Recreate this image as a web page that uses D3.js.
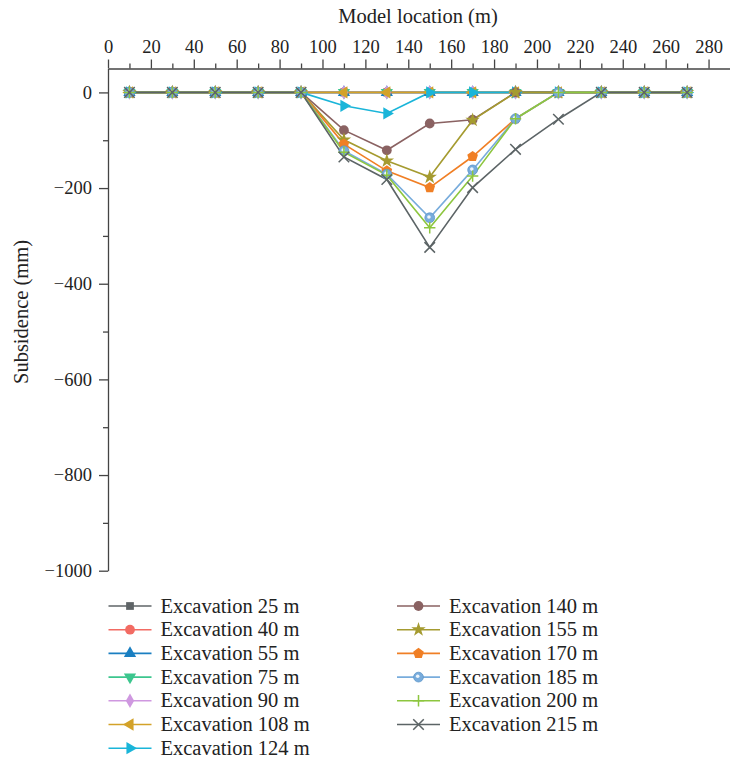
<!DOCTYPE html>
<html>
<head>
<meta charset="utf-8">
<script src="https://cdn.jsdelivr.net/npm/d3@7"></script>
<style>
  body { margin: 0; background: #fff; }
  text { font-family: "Liberation Serif", "DejaVu Serif", serif; fill: #222; }
</style>
</head>
<body>
<div id="chart"></div>
<script>
// model locations (m)
const locations = [10, 30, 50, 70, 90, 110, 130, 150, 170, 190, 210, 230, 250, 270];

const seriesNames = [
  "Excavation 25 m", "Excavation 40 m", "Excavation 55 m", "Excavation 75 m",
  "Excavation 90 m", "Excavation 108 m", "Excavation 124 m", "Excavation 140 m",
  "Excavation 155 m", "Excavation 170 m", "Excavation 185 m", "Excavation 200 m",
  "Excavation 215 m"
];

// subsidence (mm) per excavation stage
const exc25  = [0, 0, 0, 0, 0, 0, 0, 0, 0, 0, 0, 0, 0, 0];
const exc40  = [0, 0, 0, 0, 0, 0, 0, 0, 0, 0, 0, 0, 0, 0];
const exc55  = [0, 0, 0, 0, 0, 0, 0, 0, 0, 0, 0, 0, 0, 0];
const exc75  = [0, 0, 0, 0, 0, 0, 0, 0, 0, 0, 0, 0, 0, 0];
const exc90  = [0, 0, 0, 0, 0, 0, 0, 0, 0, 0, 0, 0, 0, 0];
const exc108 = [0, 0, 0, 0, 0, 0, 0, 0, 0, 0, 0, 0, 0, 0];
const exc124 = [0, 0, 0, 0, 0, -28, -44, 0, 0, 0, 0, 0, 0, 0];
const exc140 = [0, 0, 0, 0, 0, -79, -121, -65, -57, 0, 0, 0, 0, 0];
const exc155 = [0, 0, 0, 0, 0, -99, -143, -177, -58, 0, 0, 0, 0, 0];
const exc170 = [0, 0, 0, 0, 0, -108, -164, -199, -134, -55, 0, 0, 0, 0];
const exc185 = [0, 0, 0, 0, 0, -122, -171, -262, -162, -55, 0, 0, 0, 0];
const exc200 = [0, 0, 0, 0, 0, -125, -173, -283, -175, -55, 0, 0, 0, 0];
const exc215 = [0, 0, 0, 0, 0, -135, -182, -324, -199, -119, -56, 0, 0, 0];

const xTicks = [0, 20, 40, 60, 80, 100, 120, 140, 160, 180, 200, 220, 240, 260, 280];
const xMinorTicks = [10, 30, 50, 70, 90, 110, 130, 150, 170, 190, 210, 230, 250, 270];
const yTicks = [0, -200, -400, -600, -800, -1000];
const yMinorTicks = [-100, -300, -500, -700, -900];

const colors = ["#5f6467", "#f26b63", "#1a7fc1", "#3cc68e", "#cf98e0", "#d3a229",
  "#1ab5d9", "#8a6262", "#a59b30", "#f07f25", "#78acdc", "#8dc63f", "#5c6466"];

const values = [exc25, exc40, exc55, exc75, exc90, exc108, exc124, exc140,
  exc155, exc170, exc185, exc200, exc215];

const width = 730, height = 761;

const x = d3.scaleLinear().domain([0, 290]).range([108, 730]);
const y = d3.scaleLinear().domain([-1000, 50]).range([570.7, 68.5]);

const svg = d3.select("#chart").append("svg")
  .attr("width", width)
  .attr("height", height);

svg.append("rect").attr("width", width).attr("height", height).attr("fill", "#fff");

// custom marker shapes
const symbolPentagon = {
  draw(ctx, size) {
    const r = Math.sqrt(size / 2.378);
    for (let i = 0; i < 5; i++) {
      const a = -Math.PI / 2 + i * 2 * Math.PI / 5;
      if (i === 0) ctx.moveTo(r * Math.cos(a), r * Math.sin(a));
      else ctx.lineTo(r * Math.cos(a), r * Math.sin(a));
    }
    ctx.closePath();
  }
};
const symbolPlusLine = {
  draw(ctx, size) {
    const r = Math.sqrt(size) / 2;
    ctx.moveTo(-r, 0); ctx.lineTo(r, 0);
    ctx.moveTo(0, -r); ctx.lineTo(0, r);
  }
};
const symbolTimesLine = {
  draw(ctx, size) {
    const r = Math.sqrt(size) / 2.4;
    ctx.moveTo(-r, -r); ctx.lineTo(r, r);
    ctx.moveTo(-r, r); ctx.lineTo(r, -r);
  }
};

const markers = [
  { type: d3.symbolSquare, size: 60, rot: 0 },
  { type: d3.symbolCircle, size: 75, rot: 0 },
  { type: d3.symbolTriangle, size: 65, rot: 0 },
  { type: d3.symbolTriangle, size: 65, rot: 180 },
  { type: d3.symbolDiamond, size: 60, rot: 0 },
  { type: d3.symbolTriangle, size: 65, rot: -90 },
  { type: d3.symbolTriangle, size: 65, rot: 90 },
  { type: d3.symbolCircle, size: 75, rot: 0 },
  { type: d3.symbolStar, size: 65, rot: 0 },
  { type: symbolPentagon, size: 75, rot: 0 },
  { type: d3.symbolCircle, size: 75, rot: 0, sphere: true },
  { type: symbolPlusLine, size: 130, rot: 0, stroke: true },
  { type: symbolTimesLine, size: 160, rot: 0, stroke: true }
];

function drawMarker(g, i, cx, cy) {
  const m = markers[i];
  const p = g.append("path")
    .attr("d", d3.symbol().type(m.type).size(m.size)())
    .attr("transform", `translate(${cx},${cy}) rotate(${m.rot})`);
  if (m.stroke) {
    p.attr("fill", "none").attr("stroke", colors[i]).attr("stroke-width", 1.5);
  } else {
    p.attr("fill", colors[i]);
  }
  if (m.sphere) {
    p.attr("stroke", "#5d95c9").attr("stroke-width", 0.8);
    g.append("circle")
      .attr("cx", cx - 0.8).attr("cy", cy - 0.8).attr("r", 1.8)
      .attr("fill", "#eef5fc");
  }
}

// axes
const axisColor = "#444";

svg.append("g")
  .attr("transform", `translate(0,${y(50)})`)
  .call(d3.axisTop(x).tickValues(xTicks).tickSize(9).tickSizeOuter(0).tickPadding(7)
    .tickFormat(d3.format("d")));
svg.append("g")
  .attr("transform", `translate(0,${y(50)})`)
  .call(d3.axisTop(x).tickValues(xMinorTicks).tickSize(5).tickSizeOuter(0).tickFormat(""))
  .select(".domain").remove();

svg.append("g")
  .attr("transform", `translate(${x(0)},0)`)
  .call(d3.axisLeft(y).tickValues(yTicks).tickSize(9).tickSizeOuter(0).tickPadding(7)
    .tickFormat(d3.format("d")));
svg.append("g")
  .attr("transform", `translate(${x(0)},0)`)
  .call(d3.axisLeft(y).tickValues(yMinorTicks).tickSize(5).tickSizeOuter(0).tickFormat(""))
  .select(".domain").remove();

svg.selectAll(".domain, .tick line").attr("stroke", axisColor).attr("stroke-width", 1.3);
svg.selectAll(".tick text").style("font-size", "18.5px").attr("fill", "#222");

svg.append("text")
  .attr("x", 418).attr("y", 23)
  .attr("text-anchor", "middle")
  .style("font-size", "20.5px")
  .text("Model location (m)");

svg.append("text")
  .attr("transform", "translate(28,312) rotate(-90)")
  .attr("text-anchor", "middle")
  .style("font-size", "20.5px")
  .text("Subsidence (mm)");

// lines, then markers
const line = d3.line()
  .x((d, i) => x(locations[i]))
  .y(d => y(d));

const plot = svg.append("g");
values.forEach((vals, i) => {
  plot.append("path")
    .datum(vals)
    .attr("d", line)
    .attr("fill", "none")
    .attr("stroke", colors[i])
    .attr("stroke-width", 1.6);
});
const dots = svg.append("g");
values.forEach((vals, i) => {
  vals.forEach((v, j) => drawMarker(dots, i, x(locations[j]), y(v)));
});

// legend
const legend = svg.append("g");
seriesNames.forEach((name, i) => {
  const col = i < 7 ? 0 : 1;
  const row = i < 7 ? i : i - 7;
  const lx = col === 0 ? 108.5 : 397;
  const ly = 606 + row * 23.7;
  legend.append("line")
    .attr("x1", lx).attr("x2", lx + 43)
    .attr("y1", ly).attr("y2", ly)
    .attr("stroke", colors[i]).attr("stroke-width", 1.6);
  drawMarker(legend, i, lx + 21.5, ly);
  legend.append("text")
    .attr("x", lx + 52).attr("y", ly + 6.5)
    .style("font-size", "20.5px")
    .text(name);
});
</script>
</body>
</html>
